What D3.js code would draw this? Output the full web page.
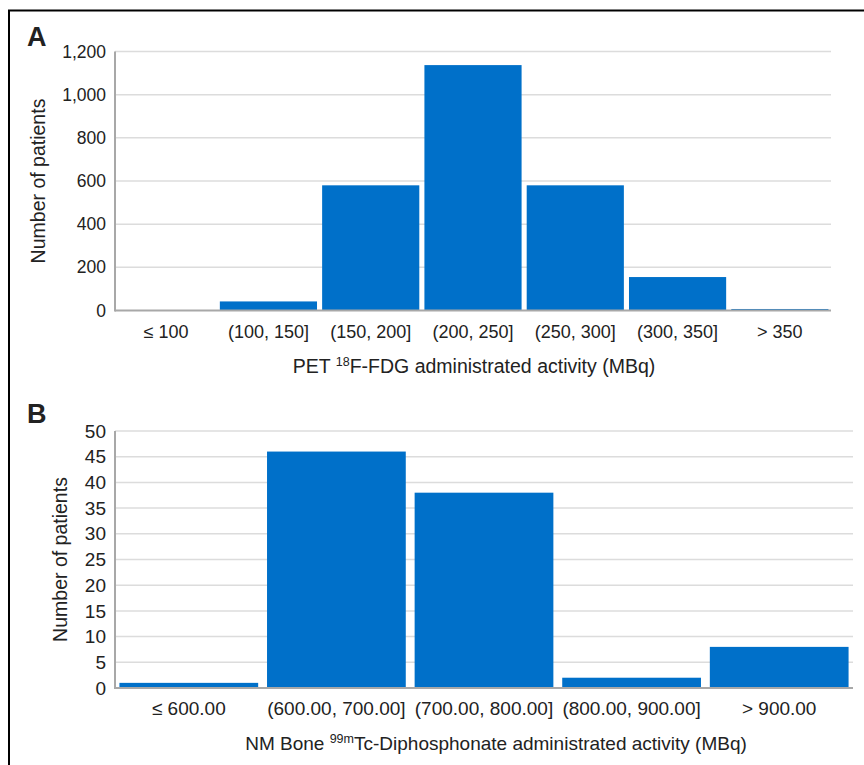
<!DOCTYPE html>
<html lang="en">
<head>
<meta charset="utf-8">
<title>Administrated activity</title>
<script src="https://d3js.org/d3.v7.min.js"></script>
<style>
body { margin: 0; background: #fff; }
text { font-family: "Liberation Sans", Arial, sans-serif; fill: #222; }
.grid line { stroke: #dcdcdc; stroke-width: 1.5px; }
.axisline { stroke: #a8a8a8; stroke-width: 2px; }
</style>
</head>
<body>
<svg width="864" height="765"></svg>
<script>
// panel A: PET 18F-FDG
var fdgCats = ['\u2264 100', '(100, 150]', '(150, 200]', '(200, 250]', '(250, 300]', '(300, 350]', '> 350'];
var fdgCounts = [0, 42, 580, 1137, 580, 155, 7];
var fdgTicks = [0, 200, 400, 600, 800, 1000, 1200];

// panel B: NM bone 99mTc-diphosphonate
var boneCats = ['\u2264 600.00', '(600.00, 700.00]', '(700.00, 800.00]', '(800.00, 900.00]', '> 900.00'];
var boneCounts = [1, 46, 38, 2, 8];
var boneTicks = [0, 5, 10, 15, 20, 25, 30, 35, 40, 45, 50];

var svg = d3.select('svg');

// frame (top + left only visible)
svg.append('path')
  .attr('d', 'M9,900V10.5H900')
  .attr('fill', 'none')
  .attr('stroke', '#000')
  .attr('stroke-width', 2);

function panel(o) {
  var x = d3.scaleBand().domain(o.cats).range([o.x0, o.x1]).paddingInner(o.pad).paddingOuter(o.pad / 2);
  var y = d3.scaleLinear().domain([0, o.max]).range([o.y0, o.y1]);
  var g = svg.append('g');

  g.append('g').attr('class', 'grid')
    .selectAll('line').data(o.ticks.slice(1)).enter().append('line')
    .attr('x1', o.x0).attr('x2', o.x1)
    .attr('y1', d => y(d)).attr('y2', d => y(d));

  g.selectAll('text.tick').data(o.ticks).enter().append('text')
    .attr('class', 'tick')
    .attr('x', o.x0 - 9).attr('y', d => y(d))
    .attr('dy', '0.35em')
    .attr('text-anchor', 'end')
    .attr('font-size', o.tickSize)
    .text(o.fmt);

  g.selectAll('rect').data(o.counts).enter().append('rect')
    .attr('x', (d, i) => x(o.cats[i]))
    .attr('width', x.bandwidth())
    .attr('y', d => y(d))
    .attr('height', d => o.y0 - y(d))
    .attr('fill', '#0070c9');

  g.append('line').attr('class', 'axisline')
    .attr('x1', o.x0).attr('x2', o.x0).attr('y1', o.y1).attr('y2', o.y0 + 1);
  g.append('line').attr('class', 'axisline')
    .attr('x1', o.x0).attr('x2', o.x1).attr('y1', o.y0).attr('y2', o.y0);

  g.selectAll('text.cat').data(o.cats).enter().append('text')
    .attr('class', 'cat')
    .attr('x', d => x(d) + x.bandwidth() / 2)
    .attr('y', o.y0 + 27)
    .attr('text-anchor', 'middle')
    .attr('font-size', o.catSize)
    .text(d => d);

  var t = g.append('text')
    .attr('x', o.titleX).attr('y', o.y0 + 62)
    .attr('text-anchor', 'middle')
    .attr('font-size', o.titleSize);
  t.append('tspan').text(o.title[0]);
  t.append('tspan').attr('font-size', 12.5).attr('dy', -7).text(o.title[1]);
  t.append('tspan').attr('dy', 7).text(o.title[2]);

  g.append('text')
    .attr('transform', 'translate(' + o.labX + ',' + ((o.y0 + o.y1) / 2) + ') rotate(-90)')
    .attr('text-anchor', 'middle')
    .attr('font-size', 19.5)
    .text('Number of patients');

  g.append('text')
    .attr('x', 27).attr('y', o.letterY)
    .attr('font-size', 27).attr('font-weight', 'bold')
    .attr('fill', '#000')
    .text(o.letter);
}

panel({
  cats: fdgCats, counts: fdgCounts, ticks: fdgTicks, max: 1200,
  x0: 115, x1: 831, y0: 310.5, y1: 51.5, pad: 0.05,
  tickSize: 17.5, catSize: 18, titleSize: 19.5,
  fmt: d3.format(','), title: ['PET ', '18', 'F-FDG administrated activity (MBq)'],
  titleX: 474, labX: 45, letter: 'A', letterY: 46
});

panel({
  cats: boneCats, counts: boneCounts, ticks: boneTicks, max: 50,
  x0: 115, x1: 853, y0: 688, y1: 431, pad: 0.06,
  tickSize: 19, catSize: 19, titleSize: 19,
  fmt: d => d, title: ['NM Bone ', '99m', 'Tc-Diphosphonate administrated activity (MBq)'],
  titleX: 496, labX: 67, letter: 'B', letterY: 423
});
</script>
</body>
</html>
